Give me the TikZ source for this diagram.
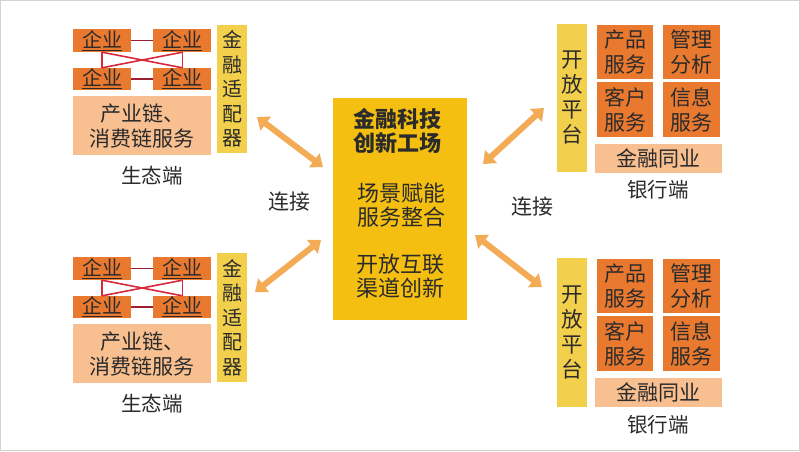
\documentclass[tikz,border=0pt]{standalone}
\usepackage{fontspec}
\newfontfamily\cjk{Noto Sans CJK SC}
\usetikzlibrary{positioning,arrows.meta}

\definecolor{firmorange}{HTML}{E9792F}
\definecolor{chainpeach}{HTML}{F8BF90}
\definecolor{adaptyellow}{HTML}{F3D04C}
\definecolor{hubgold}{HTML}{F4BF10}
\definecolor{linkorange}{HTML}{F3AB55}
\definecolor{tiedark}{HTML}{9A1F30}
\definecolor{tiered}{HTML}{D8283C}
\definecolor{textgray}{HTML}{2B2B2B}

\begin{document}
\begin{tikzpicture}
    [x=1pt,y=-1pt,
     firm/.style={fill=firmorange,inner sep=0,minimum width=58pt,minimum height=23pt,text=textgray,font=\cjk\fontsize{20}{20}\selectfont},
     chain/.style={fill=chainpeach,inner sep=0,minimum width=138pt,minimum height=59pt,align=center,text=textgray,font=\cjk\fontsize{21}{25}\selectfont},
     adapter/.style={fill=adaptyellow,inner sep=0,minimum width=30pt,align=center,text=textgray,font=\cjk\fontsize{20}{24.6}\selectfont},
     service/.style={fill=firmorange,inner sep=0,minimum width=56pt,minimum height=54pt,align=center,text=textgray,font=\cjk\fontsize{21}{25}\selectfont},
     peer/.style={fill=chainpeach,inner sep=0,minimum width=127pt,minimum height=29pt,text=textgray,font=\cjk\fontsize{21}{24}\selectfont},
     caption/.style={text=textgray,font=\cjk\fontsize{20.5}{24}\selectfont},
     hubtext/.style={align=center,text=textgray,font=\cjk\fontsize{22}{24}\selectfont},
     link/.style={draw=linkorange,line width=6pt,{Triangle[width=17pt,length=11pt]}-{Triangle[width=17pt,length=11pt]}},
     tie/.style={draw=tiedark,line width=1.6pt},
     cross/.style={draw=tiered,line width=1.6pt}]
    % Frame
    \useasboundingbox (0, 0) rectangle (800, 451);
    \draw [gray!35] (0.5, 0.5) rectangle (799.5, 450.5);

    % Hub
    \node (hub) at (400, 209) [fill=hubgold,minimum width=134pt,minimum height=222pt] {};
    \node (hubtitle) at (397, 131) [hubtext,font=\cjk\bfseries\fontsize{22}{24}\selectfont] {金融科技\\创新工场};
    \node (hubscene) at (401, 205) [hubtext] {场景赋能\\服务整合};
    \node (hubopen) at (400, 276.5) [hubtext] {开放互联\\渠道创新};

    % Ecosystem, upper
    \node (ua11) at (102, 40.5) [firm] {\underline{企业}};
    \node (ua12) [right=22pt of ua11] [firm] {\underline{企业}};
    \node (ua21) at (102, 79) [firm,minimum height=22pt] {\underline{企业}};
    \node (ua22) [right=22pt of ua21] [firm,minimum height=22pt] {\underline{企业}};
    \node (uachain) at (142, 125.5) [chain] {产业链、\\消费链服务};
    \node (uaadapt) at (232, 89) [adapter,minimum height=128pt] {金\\融\\适\\配\\器};
    \node (ualabel) at (152, 176) [caption] {生态端};

    \draw [tie] (ua11) -- (ua12);
    \draw [tie] (ua21) -- (ua22);
    \draw [cross] (ua11.south) -- (ua21.north);
    \draw [cross] (ua11.south) -- (ua22.north);
    \draw [cross] (ua12.south) -- (ua21.north);
    \draw [cross] (ua12.south) -- (ua22.north);

    % Ecosystem, lower
    \node (la11) at (102, 268.5) [firm] {\underline{企业}};
    \node (la12) [right=22pt of la11] [firm] {\underline{企业}};
    \node (la21) at (102, 307) [firm,minimum height=22pt] {\underline{企业}};
    \node (la22) [right=22pt of la21] [firm,minimum height=22pt] {\underline{企业}};
    \node (lachain) at (142, 353.5) [chain] {产业链、\\消费链服务};
    \node (laadapt) at (232, 317.5) [adapter,minimum height=129pt] {金\\融\\适\\配\\器};
    \node (lalabel) at (152, 404) [caption] {生态端};

    \draw [tie] (la11) -- (la12);
    \draw [tie] (la21) -- (la22);
    \draw [cross] (la11.south) -- (la21.north);
    \draw [cross] (la11.south) -- (la22.north);
    \draw [cross] (la12.south) -- (la21.north);
    \draw [cross] (la12.south) -- (la22.north);

    % Bank, upper
    \node (ubplat) at (572, 98) [adapter,minimum height=148pt,font=\cjk\fontsize{21.5}{25}\selectfont] {开\\放\\平\\台};
    \node (ubprod) at (625, 52) [service] {产品\\服务};
    \node (ubmgmt) [right=10pt of ubprod] [service,minimum width=57pt] {管理\\分析};
    \node (ubcust) [below=3pt of ubprod] [service,minimum height=55pt] {客户\\服务};
    \node (ubinfo) [right=10pt of ubcust] [service,minimum width=57pt,minimum height=55pt] {信息\\服务};
    \node (ubpeer) at (658.5, 158.5) [peer] {金融同业};
    \node (ublabel) at (658, 190) [caption] {银行端};

    % Bank, lower
    \node (lbplat) at (572, 332.5) [adapter,minimum height=149pt,font=\cjk\fontsize{21.5}{25}\selectfont] {开\\放\\平\\台};
    \node (lbprod) at (625, 286) [service] {产品\\服务};
    \node (lbmgmt) [right=10pt of lbprod] [service,minimum width=57pt] {管理\\分析};
    \node (lbcust) [below=3pt of lbprod] [service,minimum height=55pt] {客户\\服务};
    \node (lbinfo) [right=10pt of lbcust] [service,minimum width=57pt,minimum height=55pt] {信息\\服务};
    \node (lbpeer) at (658.5, 392.5) [peer] {金融同业};
    \node (lblabel) at (658, 425) [caption] {银行端};

    % Links
    \coordinate (ual) at (257, 117);
    \coordinate (uah) at (323, 167);
    \coordinate (lal) at (255, 292);
    \coordinate (lah) at (321, 240);
    \coordinate (ubl) at (544, 108);
    \coordinate (ubh) at (483, 164);
    \coordinate (lbl) at (542, 287);
    \coordinate (lbh) at (475, 235);
    \draw [link] (ual) -- (uah);
    \draw [link] (lal) -- (lah);
    \draw [link] (ubl) -- (ubh);
    \draw [link] (lbl) -- (lbh);
    \node (leftjoin) at (289, 202) [caption,font=\cjk\fontsize{21}{24}\selectfont] {连接};
    \node (rightjoin) at (532, 207) [caption,font=\cjk\fontsize{21}{24}\selectfont] {连接};
\end{tikzpicture}
\end{document}
